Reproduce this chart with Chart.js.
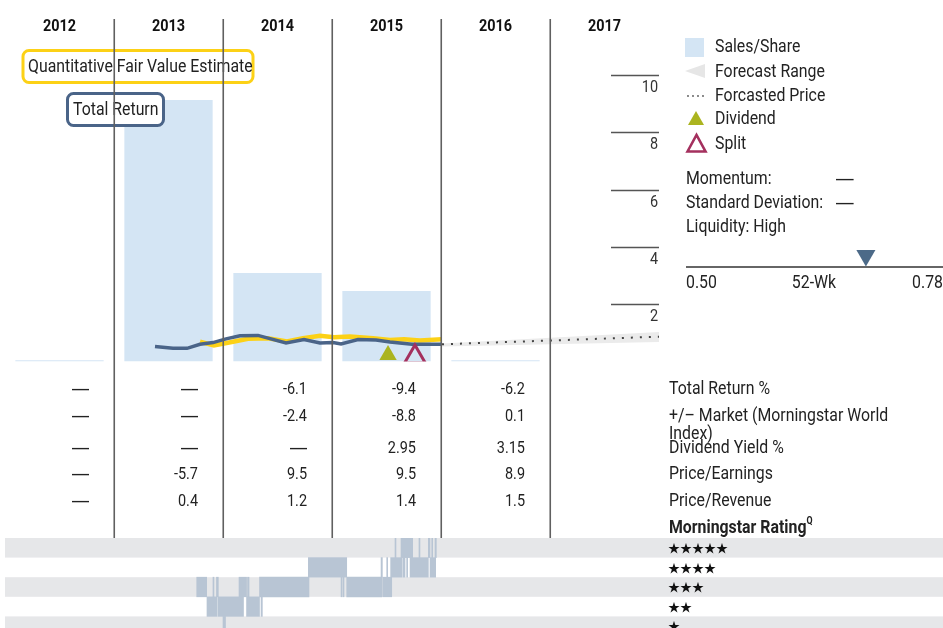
<!DOCTYPE html>
<html>
<head>
<meta charset="utf-8">
<script src="https://cdn.jsdelivr.net/npm/chart.js@4.4.1/dist/chart.umd.min.js"></script>
<style>
html, body { margin: 0; padding: 0; background: #fff; }
#wrap { position: relative; width: 943px; height: 628px; overflow: hidden; font-family: Roboto, sans-serif; color: #222; }
canvas { position: absolute; }
.t { position: absolute; white-space: nowrap; font-size: 18px; line-height: 20px; transform: scaleX(0.88); transform-origin: 0 50%; }
.num { position: absolute; width: 84px; text-align: right; white-space: nowrap; font-size: 17px; line-height: 20px; transform: scaleX(0.85); transform-origin: 100% 50%; }
.dash { font-family: "Liberation Sans", sans-serif; font-size: 20px; }
.stars { position: absolute; left: 668px; font-family: "Noto Sans CJK SC", "DejaVu Sans", sans-serif; font-size: 12px; line-height: 16px; color: #111; }
svg { position: absolute; }
</style>
</head>
<body>
<div id="wrap">
  <canvas id="main" width="943" height="628" style="left:0;top:0"></canvas>
  <canvas id="rating" width="943" height="98" style="left:0;top:538px"></canvas>
  <canvas id="range52" width="257" height="28" style="left:686px;top:240px"></canvas>

  <!-- legend -->
  <div style="position:absolute;left:685px;top:38px;width:19px;height:19px;background:#d4e5f4"></div>
  <div class="t" style="left:715px;top:36px">Sales/Share</div>
  <svg style="left:685px;top:63px" width="22" height="16"><polygon points="0,8 20,1 20,15" fill="#e6e6e6"/></svg>
  <div class="t" style="left:715px;top:61px">Forecast Range</div>
  <svg style="left:686px;top:92px" width="20" height="8"><circle cx="2" cy="4" r="0.9" fill="#555"/><circle cx="7" cy="4" r="0.9" fill="#555"/><circle cx="12" cy="4" r="0.9" fill="#555"/><circle cx="17" cy="4" r="0.9" fill="#555"/></svg>
  <div class="t" style="left:715px;top:85px">Forcasted Price</div>
  <svg style="left:686px;top:109px" width="20" height="17"><polygon points="2,16 10,2 18,16" fill="#abb41f"/></svg>
  <div class="t" style="left:715px;top:108px">Dividend</div>
  <svg style="left:685px;top:132px" width="23" height="21"><polygon points="2.5,19.5 11.5,3 20.5,19.5" fill="none" stroke="#a4305e" stroke-width="2.6"/></svg>
  <div class="t" style="left:715px;top:133px">Split</div>

  <div class="t" style="left:686px;top:168px">Momentum:</div>
  <div class="t" style="left:836px;top:168px"><span class="dash">—</span></div>
  <div class="t" style="left:686px;top:192px">Standard Deviation:</div>
  <div class="t" style="left:836px;top:192px"><span class="dash">—</span></div>
  <div class="t" style="left:686px;top:216px">Liquidity: High</div>

  <div class="t" style="left:686px;top:272px">0.50</div>
  <div class="t" style="left:764px;top:272px;width:100px;text-align:center;transform-origin:50% 50%">52-Wk</div>
  <div class="t" style="left:843px;top:272px;width:100px;text-align:right;transform-origin:100% 50%">0.78</div>

  <div id="table"></div>
  <div class="t" style="left:669px;top:517px;font-weight:bold">Morningstar Rating<sup style="font-size:10px;line-height:0;vertical-align:9px">Q</sup></div>
</div>

<script>
const FONT = 'Roboto, sans-serif';

// ---- data ----
const years = [2012, 2013, 2014, 2015, 2016, 2017];
const salesPerShare = [0.04, 9.13, 3.09, 2.46, 0.04, null];
const yTicks = [2, 4, 6, 8, 10];

const trDates  = [2013.376, 2013.541, 2013.670, 2013.789, 2013.908, 2014.028, 2014.156, 2014.321, 2014.578, 2014.743, 2014.890, 2015.009, 2015.083, 2015.239, 2015.404, 2015.532, 2015.734, 2015.835, 2016.009];
const trValues = [0.52, 0.46, 0.46, 0.60, 0.66, 0.79, 0.90, 0.91, 0.65, 0.77, 0.65, 0.66, 0.61, 0.77, 0.75, 0.68, 0.60, 0.60, 0.60];

const fvDates  = [2013.789, 2013.917, 2014.092, 2014.229, 2014.413, 2014.587, 2014.734, 2014.890, 2015.018, 2015.165, 2015.376, 2015.532, 2015.661, 2015.807, 2016.009];
const fvValues = [0.69, 0.56, 0.69, 0.79, 0.81, 0.70, 0.81, 0.90, 0.85, 0.87, 0.81, 0.75, 0.78, 0.73, 0.78];

const forecastDates = [2016.009, 2018];
const forecastPrice = [0.60, 0.866];
const rangeHigh = [0.63, 1.03];
const rangeLow  = [0.52, 0.68];

const dividendDates = [2015.514];
const splitDates = [2015.761];

const tableYears = [2012, 2013, 2014, 2015, 2016];
const totalReturnPct = ['—', '—', '-6.1', '-9.4', '-6.2'];
const vsMarket       = ['—', '—', '-2.4', '-8.8', '0.1'];
const dividendYield  = ['—', '—', '—', '2.95', '3.15'];
const priceEarnings  = ['—', '-5.7', '9.5', '9.5', '8.9'];
const priceRevenue   = ['—', '0.4', '1.2', '1.4', '1.5'];

const ratingLevels = ['5', '4', '3', '2', '1'];
const rating5 = [[2015.578, 2015.587], [2015.633, 2015.740], [2015.798, 2015.807], [2015.884, 2015.899], [2015.915, 2015.924], [2015.945, 2015.957]];
const rating4 = [[2014.783, 2015.135], [2015.450, 2015.462], [2015.502, 2015.511], [2015.538, 2015.645], [2015.654, 2015.670], [2015.685, 2015.694], [2015.716, 2015.884], [2015.899, 2015.951]];
const rating3 = [[2013.759, 2013.850], [2013.908, 2013.917], [2013.940, 2013.957], [2014.147, 2014.216], [2014.225, 2014.239], [2014.335, 2014.789], [2015.083, 2015.092], [2015.101, 2015.110], [2015.135, 2015.456], [2015.465, 2015.548]];
const rating2 = [[2013.853, 2013.948], [2013.957, 2014.188], [2014.216, 2014.335], [2014.349, 2014.361]];
const rating1 = [[2014.000, 2014.023]];

const week52Low = 0.50, week52High = 0.78, lastPrice = 0.696;

// ---- table (html) ----
const tableRows = [
  { values: totalReturnPct, label: 'Total Return %', y: 378 },
  { values: vsMarket, label: '+/– Market (Morningstar World<br>Index)', y: 405 },
  { values: dividendYield, label: 'Dividend Yield %', y: 437 },
  { values: priceEarnings, label: 'Price/Earnings', y: 463 },
  { values: priceRevenue, label: 'Price/Revenue', y: 490 }
];
let html = '';
tableRows.forEach(row => {
  row.values.forEach((v, i) => {
    const cell = v === '—' ? '<span class="dash">—</span>' : v;
    html += `<div class="num" style="left:${5 + 109 * i}px;top:${row.y}px">${cell}</div>`;
  });
  html += `<div class="t" style="left:669px;top:${row.y}px;line-height:18px;margin-top:1px">${row.label}</div>`;
});
['★★★★★', '★★★★', '★★★', '★★', '★'].forEach((s, i) => {
  html += `<div class="stars" style="top:${540 + i * 19.6}px">${s}</div>`;
});
document.getElementById('table').innerHTML = html;

// condensed canvas text
function condText(ctx, text, x, y, sx) {
  ctx.save();
  ctx.translate(x, y);
  ctx.scale(sx, 1);
  ctx.fillText(text, 0, 0);
  ctx.restore();
}

// ---- main chart ----
const pts = (xs, ys) => xs.map((x, i) => ({ x: x, y: ys[i] }));

const decor = {
  id: 'decor',
  afterDatasetsDraw(chart) {
    const { ctx, chartArea, scales: { x, y } } = chart;
    ctx.save();
    // series labels
    ctx.fillStyle = '#fff';
    ctx.lineWidth = 3;
    ctx.strokeStyle = '#fcd116';
    ctx.beginPath(); ctx.roundRect(23, 50.5, 230, 32, 6); ctx.fill(); ctx.stroke();
    ctx.strokeStyle = '#4a6488';
    ctx.beginPath(); ctx.roundRect(67.5, 93.5, 96, 32, 6); ctx.fill(); ctx.stroke();
    ctx.fillStyle = '#222';
    ctx.font = '18px ' + FONT;
    ctx.textBaseline = 'middle';
    condText(ctx, 'Quantitative Fair Value Estimate', 28, 67, 0.88);
    condText(ctx, 'Total Return', 73, 110, 0.88);

    // year dividers
    ctx.strokeStyle = '#606060';
    ctx.lineWidth = 1.6;
    years.slice(1).forEach(yr => {
      const px = Math.round(x.getPixelForValue(yr)) + 0.25;
      ctx.beginPath(); ctx.moveTo(px, 19); ctx.lineTo(px, 538); ctx.stroke();
    });
    // year labels
    ctx.font = 'bold 17px ' + FONT;
    ctx.fillStyle = '#111';
    ctx.textAlign = 'center';
    years.forEach(yr => condText(ctx, String(yr), x.getPixelForValue(yr + 0.5), 27, 0.85));

    // value ticks on the right
    ctx.textAlign = 'right';
    ctx.font = '17px ' + FONT;
    ctx.fillStyle = '#333';
    ctx.strokeStyle = '#555';
    yTicks.forEach(v => {
      const py = Math.round(y.getPixelForValue(v)) + 0.5;
      ctx.beginPath(); ctx.moveTo(chartArea.right - 48, py); ctx.lineTo(chartArea.right, py); ctx.stroke();
      condText(ctx, String(v), chartArea.right - 1, py + 12, 0.85);
    });
    ctx.restore();
  }
};

new Chart(document.getElementById('main'), {
  type: 'bar',
  data: {
    datasets: [
      { type: 'scatter', data: splitDates.map(d => ({ x: d, y: 0.157 })), pointStyle: 'triangle', pointRadius: 12,
        pointBorderColor: '#a4305e', pointBorderWidth: 3, pointBackgroundColor: 'rgba(0,0,0,0)', clip: 0 },
      { type: 'scatter', data: dividendDates.map(d => ({ x: d, y: 0.23 })), pointStyle: 'triangle', pointRadius: 10,
        pointBackgroundColor: '#abb41f', pointBorderWidth: 0, pointBorderColor: '#abb41f', clip: 0 },
      { type: 'line', data: pts(trDates, trValues), borderColor: '#4a6488', borderWidth: 3.5, pointRadius: 0, tension: 0 },
      { type: 'line', data: pts(fvDates, fvValues), borderColor: '#fcd116', borderWidth: 4.5, pointRadius: 0, tension: 0 },
      { type: 'line', data: pts(forecastDates, forecastPrice), borderColor: '#444', borderWidth: 2, borderDash: [2, 7], pointRadius: 0 },
      { type: 'line', data: pts(forecastDates, rangeLow), borderColor: 'rgba(0,0,0,0)', borderWidth: 0, pointRadius: 0,
        fill: '+1', backgroundColor: '#ebebeb' },
      { type: 'line', data: pts(forecastDates, rangeHigh), borderColor: 'rgba(0,0,0,0)', borderWidth: 0, pointRadius: 0 },
      { type: 'bar', data: years.map((yr, i) => ({ x: yr + 0.5, y: salesPerShare[i] })), backgroundColor: '#d4e5f4',
        barPercentage: 0.9, categoryPercentage: 0.9, borderWidth: 0 }
    ]
  },
  options: {
    responsive: false,
    animation: false,
    events: [],
    devicePixelRatio: 1,
    layout: { autoPadding: false, padding: { left: 5, right: 284, top: 17.7, bottom: 266.5 } },
    plugins: { legend: { display: false }, tooltip: { enabled: false } },
    scales: {
      x: { type: 'linear', min: 2012, max: 2018, offset: false, display: false },
      y: { min: 0, max: 12, display: false }
    }
  },
  plugins: [decor]
});

// ---- rating history strips ----
const ratingBlocks = [];
[rating5, rating4, rating3, rating2, rating1].forEach((list, i) => {
  list.forEach(r => ratingBlocks.push({ x: r, y: ratingLevels[i] }));
});

const stripes = {
  id: 'stripes',
  beforeDatasetsDraw(chart) {
    const { ctx, chartArea, scales: { y } } = chart;
    const h = chartArea.height / ratingLevels.length;
    ctx.save();
    ctx.fillStyle = '#e6e7e9';
    [0, 2, 4].forEach(i => {
      const yc = y.getPixelForValue(i);
      ctx.fillRect(chartArea.left, yc - h / 2, chartArea.width, h);
    });
    ctx.restore();
  }
};

new Chart(document.getElementById('rating'), {
  type: 'bar',
  data: {
    labels: ratingLevels,
    datasets: [{ data: ratingBlocks, backgroundColor: '#b8c5d4', barPercentage: 1, categoryPercentage: 1,
      borderWidth: 0, borderSkipped: false }]
  },
  options: {
    indexAxis: 'y',
    responsive: false,
    animation: false,
    events: [],
    devicePixelRatio: 1,
    layout: { autoPadding: false, padding: { left: 5, right: 0, top: 0, bottom: 0 } },
    plugins: { legend: { display: false }, tooltip: { enabled: false } },
    scales: {
      x: { type: 'linear', min: 2012, max: 2012 + 938 / 109, display: false },
      y: { type: 'category', display: false }
    }
  },
  plugins: [stripes]
});

// ---- 52 week range marker ----
const baseline = {
  id: 'baseline',
  beforeDatasetsDraw(chart) {
    const { ctx, chartArea } = chart;
    ctx.save();
    ctx.strokeStyle = '#333';
    ctx.lineWidth = 1.5;
    ctx.beginPath(); ctx.moveTo(chartArea.left, chartArea.bottom - 1); ctx.lineTo(chartArea.right, chartArea.bottom - 1); ctx.stroke();
    ctx.restore();
  }
};

new Chart(document.getElementById('range52'), {
  type: 'scatter',
  data: { datasets: [{ data: [{ x: lastPrice, y: 0.446 }], pointStyle: 'triangle', pointRotation: 180, pointRadius: 11,
    pointBackgroundColor: '#4c6a88', pointBorderWidth: 0, pointBorderColor: '#4c6a88', clip: false }] },
  options: {
    responsive: false,
    animation: false,
    events: [],
    devicePixelRatio: 1,
    layout: { autoPadding: false },
    plugins: { legend: { display: false }, tooltip: { enabled: false } },
    scales: {
      x: { type: 'linear', min: week52Low, max: week52High, display: false },
      y: { min: 0, max: 1, display: false }
    }
  },
  plugins: [baseline]
});
</script>
</body>
</html>
